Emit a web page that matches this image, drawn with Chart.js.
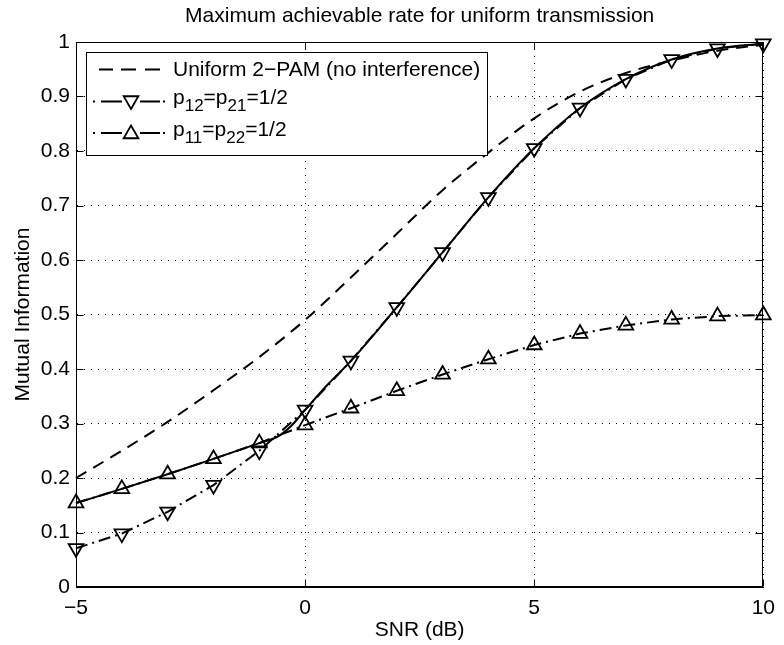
<!DOCTYPE html>
<html>
<head>
<meta charset="utf-8">
<script src="https://cdn.jsdelivr.net/npm/chart.js@4/dist/chart.umd.min.js"></script>
<style>
html,body{margin:0;padding:0;background:#fff;}
#wrap{width:784px;height:645px;}
</style>
</head>
<body>
<div id="wrap"><canvas id="c" width="784" height="645"></canvas></div>
<script>
// ---------------- data ----------------
const snrDb = [-5, -4, -3, -2, -1, 0, 1, 2, 3, 4, 5, 6, 7, 8, 9, 10];
const uniform2PAM = [0.200, 0.250, 0.303, 0.361, 0.422, 0.490, 0.568, 0.648, 0.728, 0.797, 0.860, 0.909, 0.943, 0.966, 0.984, 0.995];
const pCross = [0.071, 0.098, 0.138, 0.187, 0.250, 0.325, 0.415, 0.513, 0.614, 0.715, 0.805, 0.879, 0.932, 0.968, 0.988, 0.997];   // p12=p21=1/2
const pDirect = [0.154, 0.180, 0.207, 0.235, 0.264, 0.297, 0.328, 0.360, 0.390, 0.418, 0.444, 0.465, 0.480, 0.491, 0.497, 0.499]; // p11=p22=1/2
const maxSnr = [-5, -4, -3, -2, -1, -0.6, -0.3, 0, 0.5, 1, 2, 3, 4, 5, 6, 7, 8, 9, 10];
const maxRate = [0.154, 0.180, 0.207, 0.235, 0.264, 0.276, 0.296, 0.325, 0.372, 0.415, 0.513, 0.614, 0.715, 0.805, 0.879, 0.932, 0.968, 0.988, 0.997];
const xTicks = [-5, 0, 5, 10];
const xTickLabels = ['\u22125', '0', '5', '10'];
const yTicks = [0, 0.1, 0.2, 0.3, 0.4, 0.5, 0.6, 0.7, 0.8, 0.9, 1];
const yTickLabels = ['0', '0.1', '0.2', '0.3', '0.4', '0.5', '0.6', '0.7', '0.8', '0.9', '1'];
const chartTitle = 'Maximum achievable rate for uniform transmission';
const xLabel = 'SNR (dB)';
const yLabel = 'Mutual Information';
const legendLabel1 = 'Uniform 2\u2212PAM (no interference)';
// legend labels with subscripts: [text, isSubscript]
const legendLabel2 = [['p', false], ['12', true], ['=p', false], ['21', true], ['=1/2', false]];
const legendLabel3 = [['p', false], ['11', true], ['=p', false], ['22', true], ['=1/2', false]];

// ---------------- style ----------------
const FONT = "'Liberation Sans', Arial, Helvetica, sans-serif";
const FS = 21;
Chart.defaults.font.family = FONT;
Chart.defaults.color = '#000';

const toXY = (xs, ys) => xs.map((x, i) => ({x: x, y: ys[i]}));
const DASH = [12, 8];
const DASHDOT = [12, 5, 2, 5];

function triPath(ctx, x, y, r, down) {
  const s = down ? -1 : 1;
  ctx.beginPath();
  ctx.moveTo(x, y - s * r);
  ctx.lineTo(x + r * Math.sin(2 * Math.PI / 3), y + s * r * 0.5);
  ctx.lineTo(x - r * Math.sin(2 * Math.PI / 3), y + s * r * 0.5);
  ctx.closePath();
}

const framePlugin = {
  id: 'frame',
  afterDatasetsDraw(chart) {
    const {ctx, chartArea: a, scales} = chart;
    ctx.save();
    ctx.strokeStyle = '#000';
    ctx.lineWidth = 1;
    ctx.setLineDash([]);
    const L = Math.round(a.left) + 0.5, R = Math.round(a.right) - 0.5;
    const T = Math.round(a.top) + 0.5, B = Math.round(a.bottom) - 0.5;
    ctx.strokeRect(L, T, R - L, B - T);
    const tl = 7;
    ctx.beginPath();
    scales.x.ticks.forEach(t => {
      const px = Math.round(scales.x.getPixelForValue(t.value)) + 0.5;
      ctx.moveTo(px, B); ctx.lineTo(px, B - tl);
      ctx.moveTo(px, T); ctx.lineTo(px, T + tl);
    });
    scales.y.ticks.forEach(t => {
      const py = Math.round(scales.y.getPixelForValue(t.value)) + 0.5;
      ctx.moveTo(L, py); ctx.lineTo(L + tl, py);
      ctx.moveTo(R, py); ctx.lineTo(R - tl, py);
    });
    ctx.stroke();
    ctx.restore();
  },
  afterDraw(chart) {
    const ctx = chart.ctx;
    const BL = 86, BT = 52, BR = 487, BB = 155;
    ctx.save();
    ctx.fillStyle = '#fff';
    ctx.fillRect(BL, BT, BR - BL, BB - BT);
    ctx.strokeStyle = '#000';
    ctx.lineWidth = 1;
    ctx.strokeRect(BL + 0.5, BT + 0.5, BR - BL, BB - BT);

    ctx.lineWidth = 2;
    ctx.lineCap = 'butt';
    const seg = (x1, x2, y) => { ctx.beginPath(); ctx.moveTo(x1, y); ctx.lineTo(x2, y); ctx.stroke(); };
    // row 1: dashed
    const y1 = 69.5;
    seg(99, 113, y1); seg(121, 136, y1); seg(145, 160, y1);
    // rows 2,3: dash-dot with marker
    const mx = 131;
    [[101.5, true], [133, false]].forEach(([yy, down]) => {
      seg(93, 95, yy); seg(101, 122, yy); seg(140, 160, yy); seg(163, 165, yy);
      ctx.lineWidth = 1.8;
      triPath(ctx, mx, yy + (down ? -1 : 1), 8.5, down);
      ctx.stroke();
      ctx.lineWidth = 2;
    });

    ctx.fillStyle = '#000';
    ctx.textBaseline = 'alphabetic';
    ctx.textAlign = 'left';
    ctx.font = FS + 'px ' + FONT;
    ctx.fillText(legendLabel1, 173, 76);
    const drawSub = (parts, x, base) => {
      parts.forEach(([txt, sub]) => {
        ctx.font = (sub ? 17 : FS) + 'px ' + FONT;
        ctx.fillText(txt, x, sub ? base + 7 : base);
        x += ctx.measureText(txt).width;
      });
    };
    drawSub(legendLabel2, 173, 104);
    drawSub(legendLabel3, 173, 136);
    ctx.restore();
  }
};

new Chart(document.getElementById('c').getContext('2d'), {
  type: 'line',
  data: {
    datasets: [
      {
        label: legendLabel1,
        data: toXY(snrDb, uniform2PAM),
        borderColor: '#000', borderWidth: 2, borderDash: DASH,
        pointRadius: 0, cubicInterpolationMode: 'monotone', fill: false, clip: false
      },
      {
        label: 'max',
        data: toXY(maxSnr, maxRate),
        borderColor: '#000', borderWidth: 2,
        pointRadius: 0, cubicInterpolationMode: 'monotone', fill: false, clip: false
      },
      {
        label: 'p12=p21=1/2',
        data: toXY(snrDb, pCross),
        borderColor: '#000', borderWidth: 2, borderDash: DASHDOT, tension: 0,
        pointStyle: 'triangle', pointRotation: 180, pointRadius: 8.5,
        pointBorderWidth: 1.8, pointBorderColor: '#000', pointBackgroundColor: 'rgba(0,0,0,0)',
        fill: false, clip: false
      },
      {
        label: 'p11=p22=1/2',
        data: toXY(snrDb, pDirect),
        borderColor: '#000', borderWidth: 2, borderDash: DASHDOT, tension: 0,
        pointStyle: 'triangle', pointRotation: 0, pointRadius: 8.5,
        pointBorderWidth: 1.8, pointBorderColor: '#000', pointBackgroundColor: 'rgba(0,0,0,0)',
        fill: false, clip: false
      }
    ]
  },
  options: {
    responsive: false,
    animation: false,
    devicePixelRatio: 1,
    events: [],
    layout: {padding: {left: 0, right: 17, top: 0, bottom: 0}},
    plugins: {
      legend: {display: false},
      tooltip: {enabled: false},
      title: {
        display: true, text: chartTitle, fullSize: false, color: '#000',
        font: {size: FS, weight: 'normal'},
        padding: {top: 4, bottom: 12.8}
      }
    },
    scales: {
      x: {
        type: 'linear', min: -5, max: 10,
        afterBuildTicks: s => { s.ticks = xTicks.map(v => ({value: v})); },
        afterFit: s => { s.height = 58; },
        ticks: {font: {size: FS}, color: '#000', padding: 9, maxRotation: 0, autoSkip: false,
                callback: (v, i) => xTickLabels[i]},
        grid: {color: '#000', lineWidth: 1, drawTicks: false},
        border: {display: true, color: '#000', width: 1, dash: [1, 6]},
        title: {display: true, text: xLabel, font: {size: FS}, color: '#000', padding: {top: 0, bottom: 2}}
      },
      y: {
        type: 'linear', min: 0, max: 1,
        afterBuildTicks: s => { s.ticks = yTicks.map(v => ({value: v})); },
        afterFit: s => { s.width = 76; },
        ticks: {font: {size: FS}, color: '#000', padding: 6, autoSkip: false,
                callback: (v, i) => yTickLabels[i]},
        grid: {color: '#000', lineWidth: 1, drawTicks: false},
        border: {display: true, color: '#000', width: 1, dash: [1, 6]},
        title: {display: true, text: yLabel, font: {size: FS}, color: '#000', padding: {top: 11, bottom: 0}}
      }
    }
  },
  plugins: [framePlugin]
});
</script>
</body>
</html>
